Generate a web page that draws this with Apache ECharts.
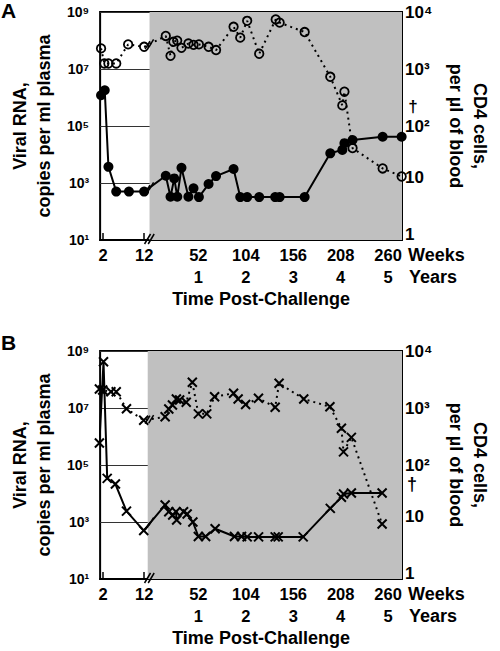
<!DOCTYPE html>
<html><head><meta charset="utf-8">
<script src="https://cdn.jsdelivr.net/npm/echarts@6/dist/echarts.min.js"></script>
<style>html,body{margin:0;padding:0;background:#fff}#c{width:500px;height:651px}</style>
</head><body><div id="c"></div>
<script>
// ---------------- data ----------------
const weekTicks = [2, 12, 52, 104, 156, 208, 260];
const yearTicks = ['', '', '1', '2', '3', '4', '5'];
const viralTickLabels = ['10¹', '10³', '10⁵', '10⁷', '10⁹'];
const cd4TickLabels = ['1', '10', '10²', '10³', '10⁴'];

// Panel A (filled circles = viral RNA, open circles = CD4)
const aViralWeeks = [1.5, 2.4, 3.3, 5.2, 8.3, 12, 16.3, 21.5, 25.6, 28.9, 33.5, 41.1, 46.7, 52.6, 63.2, 71.4, 90.6, 97.9, 105.5, 118.7, 136.2, 141.1, 168.5, 196.6, 209.8, 212.1, 221, 254, 274.8];
const aViral = [1.2e6, 1.8e6, 3700, 500, 500, 500, 1800, 330, 1450, 330, 3400, 330, 650, 320, 920, 1750, 3100, 320, 320, 320, 320, 320, 320, 11000, 14500, 25000, 32000, 42000, 42000];
const aCd4Weeks = [1.5, 2.3, 3.3, 5.2, 8.1, 12, 16.3, 21.5, 24.6, 28.8, 33.5, 41.1, 46.7, 52.6, 63.2, 71.4, 90.6, 97.9, 105.5, 118.7, 136.8, 141.1, 168.5, 196.6, 209.8, 212.1, 221, 254, 274.8];
const aCd4 = [2300, 1250, 1250, 1250, 2700, 2450, 3800, 1700, 3000, 3150, 2350, 2800, 2650, 2700, 2450, 2150, 5500, 3550, 7000, 1850, 7400, 6500, 4450, 730, 230, 400, 41, 18, 13];

// Panel B (crosses)
const bViralWeeks = [1.1, 2.1, 3.0, 5.0, 7.7, 11.9, 15.6, 19.6, 23.9, 27.5, 28.2, 35.8, 39.7, 46, 52, 60, 70.4, 91.6, 99.3, 105.5, 118, 136.2, 139.5, 166.9, 196.6, 208.8, 211.1, 219.7, 253.4];
const bViral = [5.9e5, 4.2e8, 34000, 21500, 2400, 500, 3950, 2300, 1750, 2300, 1180, 2300, 1900, 1000, 310, 310, 580, 310, 310, 300, 300, 300, 300, 300, 3000, 7400, 9600, 10400, 10400];
const bCd4Weeks = [1.1, 1.9, 3.9, 5.2, 7.7, 11.9, 15.6, 19.6, 23.6, 27.9, 31.5, 38.7, 45.4, 52, 61.2, 69.8, 90.6, 95.6, 103.8, 117.9, 136.2, 140.5, 167.5, 196.2, 208.8, 211.1, 219.7, 253.4];
const bCd4 = [2150, 2070, 1930, 1930, 970, 610, 700, 960, 1130, 1440, 1380, 1260, 2830, 790, 790, 1580, 1810, 1440, 1150, 1480, 1030, 2710, 1440, 1050, 440, 170, 305, 9.2];

// ---------------- axis mapping (broken time axis) ----------------
const U_MIN = -55.67, U_MAX = 275.2;      // axis extent (post-break weeks units)
const PRE_START = -52.4, PRE_SCALE = 4.497; // weeks 2..12 are stretched before the break
function toU(w) { return w <= 12 ? PRE_START + (w - 2) * PRE_SCALE : w; }
const tickU = weekTicks.map(toU);
const GRAY_START = [-1.5, -3.5];
const BREAK_U = [-3.7, 0.3];

const FONT = '"Liberation Sans", Arial, sans-serif';
const txt = (size) => ({ fontFamily: FONT, fontWeight: 'bold', fontSize: size, color: '#000' });

function pts(weeks, vals) { return weeks.map((w, i) => [toU(w), Math.log10(vals[i])]); }

function xLabel(v) {
  let best = 0;
  tickU.forEach((t, i) => { if (Math.abs(t - v) < Math.abs(tickU[best] - v)) best = i; });
  return yearTicks[best] ? weekTicks[best] + '\n' + yearTicks[best] : String(weekTicks[best]);
}
function cd4Label(v) {
  const i = Math.round(v);
  return (i <= 1 ? '{up|' : '{n|') + cd4TickLabels[i] + '}';
}

const grids = [
  { left: 88, top: 12, width: 334, height: 228 },
  { left: 88, top: 351, width: 334, height: 228 }
].map(g => Object.assign(g, { show: true, borderColor: '#000', borderWidth: 2, backgroundColor: 'transparent' }));

const xAxes = [0, 1].map(gi => ({
  type: 'value', gridIndex: gi, min: U_MIN, max: U_MAX,
  axisLine: { show: true, onZero: false, lineStyle: { color: '#000', width: 2 } },
  axisTick: { show: true, inside: true, length: 7, customValues: tickU, lineStyle: { color: '#000', width: 1.5 } },
  axisLabel: Object.assign(txt(16.5), { customValues: tickU, formatter: xLabel, lineHeight: 22, margin: 4 }),
  splitLine: { show: false },
  name: 'Time Post-Challenge', nameLocation: 'middle', nameGap: 50,
  nameTextStyle: Object.assign(txt(18), { padding: [0, 0, 0, 20] })
}));

const yAxes = [];
[0, 1].forEach(gi => {
  yAxes.push({
    type: 'value', gridIndex: gi, position: 'left', min: 1, max: 9, interval: 2,
    axisLine: { show: true, lineStyle: { color: '#000', width: 2 } },
    axisTick: { show: false },
    axisLabel: Object.assign(txt(14), { margin: 11, formatter: v => viralTickLabels[Math.round((v - 1) / 2)] }),
    splitLine: { show: true, lineStyle: { color: '#333', width: 1 } },
    name: 'Viral RNA,\ncopies per ml plasma', nameLocation: 'middle', nameRotate: 90, nameGap: 44,
    nameTextStyle: Object.assign(txt(18), { lineHeight: 24 })
  });
  yAxes.push({
    type: 'value', gridIndex: gi, position: 'right', min: 0, max: 4, interval: 1,
    axisLine: { show: true, lineStyle: { color: '#000', width: 2 } },
    axisTick: { show: false },
    axisLabel: Object.assign(txt(17), { margin: 3, formatter: cd4Label,
      rich: { up: Object.assign(txt(17), { padding: [0, 0, 12, 0] }), n: txt(17) } }),
    splitLine: { show: false },
    name: 'CD4 cells,\nper µl of blood', nameLocation: 'middle', nameRotate: -90, nameGap: 42,
    nameTextStyle: Object.assign(txt(18), { lineHeight: 24 })
  });
});

const CROSS = 'path://M0,0L10,10M10,0L0,10';
const lineSeries = [
  { name: 'A viral', x: 0, y: 0, data: pts(aViralWeeks, aViral), symbol: 'circle', symbolSize: 10,
    itemStyle: { color: '#000' }, lineStyle: { color: '#000', width: 2 } },
  { name: 'A CD4', x: 0, y: 1, data: pts(aCd4Weeks, aCd4), symbol: 'circle', symbolSize: 8.5,
    itemStyle: { color: 'rgba(0,0,0,0)', borderColor: '#000', borderWidth: 1.8 }, lineStyle: { color: '#000', width: 2, type: [2, 4] } },
  { name: 'B viral', x: 1, y: 2, data: pts(bViralWeeks, bViral), symbol: CROSS, symbolSize: 9,
    itemStyle: { color: 'none', borderColor: '#000', borderWidth: 2 }, lineStyle: { color: '#000', width: 2 } },
  { name: 'B CD4', x: 1, y: 3, data: pts(bCd4Weeks, bCd4), symbol: CROSS, symbolSize: 9,
    itemStyle: { color: 'none', borderColor: '#000', borderWidth: 2 }, lineStyle: { color: '#000', width: 2, type: [2, 4] } }
];

const series = [];
[0, 1].forEach(gi => {
  series.push({
    type: 'line', xAxisIndex: gi, yAxisIndex: 2 * gi, data: [], z: -1, silent: true,
    markArea: { silent: true, itemStyle: { color: '#c0c0c0' },
      data: [[{ coord: [GRAY_START[gi], 1] }, { coord: [U_MAX, 9] }]] }
  });
});
lineSeries.forEach(s => series.push({
  type: 'line', name: s.name, xAxisIndex: s.x, yAxisIndex: s.y, data: s.data,
  symbol: s.symbol, symbolSize: s.symbolSize, showSymbol: true, clip: false,
  itemStyle: s.itemStyle, lineStyle: s.lineStyle, z: 3
}));

const chart = echarts.init(document.getElementById('c'), null, { renderer: 'svg' });
chart.setOption({ animation: false, backgroundColor: '#fff', grid: grids, xAxis: xAxes, yAxis: yAxes, series: series });

// ---------------- decorations: panel letters, unit names, axis breaks ----------------
const els = [];
function text(t, x, y, size, align) {
  els.push({ type: 'text', x: x, y: y, z: 50,
    style: { text: t, fontFamily: FONT, fontWeight: 'bold', fontSize: size, fill: '#000', align: align || 'left', verticalAlign: 'middle' } });
}
text('A', 1, 10, 21);
text('B', 1, 342, 21);
[0, 1].forEach(gi => {
  const base = chart.convertToPixel({ xAxisIndex: gi, yAxisIndex: 2 * gi }, [U_MAX, 1]);
  text('Weeks', base[0] + 6, base[1] + 15, 18);
  text('Years', base[0] + 7, base[1] + 37, 18);
});
// dagger marks (death) next to last time point
text('†', 413, 106, 17, 'center');
text('†', 412, 484, 18, 'center');

function slash(x, y, h) {
  els.push({ type: 'line', z: 60, shape: { x1: x - h * 0.3, y1: y + h / 2, x2: x + h * 0.3, y2: y - h / 2 },
    style: { stroke: '#000', lineWidth: 1.5 } });
}
[0, 1].forEach(gi => {
  BREAK_U.forEach(bu => {
    const p = chart.convertToPixel({ xAxisIndex: gi, yAxisIndex: 2 * gi }, [bu, 1]);
    slash(p[0], p[1] - 1, 10);
  });
});
lineSeries.forEach(s => {
  for (let i = 0; i + 1 < s.data.length; i++) {
    if (s.data[i][0] < BREAK_U[0] && s.data[i + 1][0] > BREAK_U[1]) {
      const p1 = chart.convertToPixel({ xAxisIndex: s.x, yAxisIndex: s.y }, s.data[i]);
      const p2 = chart.convertToPixel({ xAxisIndex: s.x, yAxisIndex: s.y }, s.data[i + 1]);
      BREAK_U.forEach(bu => {
        const bx = chart.convertToPixel({ xAxisIndex: s.x, yAxisIndex: s.y }, [bu, 1])[0];
        const t = (bx - p1[0]) / (p2[0] - p1[0]);
        slash(bx, p1[1] + t * (p2[1] - p1[1]), 8);
      });
      break;
    }
  }
});
chart.setOption({ graphic: { elements: els } });
</script>
</body></html>
